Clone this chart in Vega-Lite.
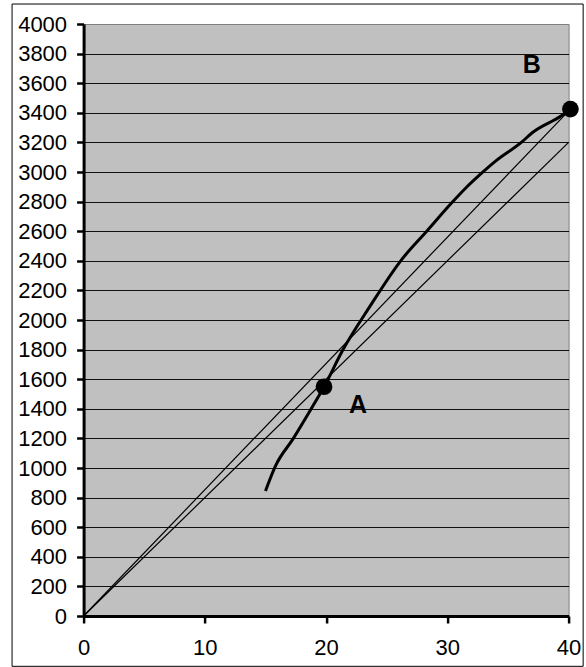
{
  "$schema": "https://vega.github.io/schema/vega-lite/v6.json",
  "width": 485,
  "height": 592,
  "autosize": {"type": "none"},
  "padding": {"left": 83.6, "top": 24, "right": 17.4, "bottom": 51},
  "background": "white",
  "datasets": {
    "lines": [
      {"series": "thin1", "x": 0, "y": 0},
      {"series": "thin1", "x": 40, "y": 3200},
      {"series": "thin2", "x": 0, "y": 0},
      {"series": "thin2", "x": 40.15, "y": 3425},
      {"series": "curve", "x": 15.0, "y": 845},
      {"series": "curve", "x": 15.8, "y": 1010},
      {"series": "curve", "x": 17.3, "y": 1200},
      {"series": "curve", "x": 18.7, "y": 1390},
      {"series": "curve", "x": 19.83, "y": 1549},
      {"series": "curve", "x": 21.4, "y": 1800},
      {"series": "curve", "x": 23.6, "y": 2090},
      {"series": "curve", "x": 26.2, "y": 2405},
      {"series": "curve", "x": 28.3, "y": 2600},
      {"series": "curve", "x": 30.4, "y": 2795},
      {"series": "curve", "x": 31.5, "y": 2890},
      {"series": "curve", "x": 32.8, "y": 2990},
      {"series": "curve", "x": 34.0, "y": 3075},
      {"series": "curve", "x": 36.1, "y": 3200},
      {"series": "curve", "x": 37.0, "y": 3265},
      {"series": "curve", "x": 39.4, "y": 3380},
      {"series": "curve", "x": 40.15, "y": 3425}
    ],
    "points": [
      {"label": "A", "x": 19.83, "y": 1549},
      {"label": "B", "x": 40.15, "y": 3425}
    ],
    "labels": [
      {"text": "A", "x": 22.63, "y": 1426},
      {"text": "B", "x": 36.96, "y": 3723}
    ]
  },
  "encoding": {
    "x": {"type": "quantitative", "scale": {"domain": [0, 40], "nice": false},
      "axis": {"values": [0, 10, 20, 30, 40], "tickCount": 10, "grid": false, "labelFlush": false, "format": "d", "labelPadding": 14}},
    "y": {"type": "quantitative", "scale": {"domain": [0, 4000], "nice": false},
      "axis": {"values": [0, 200, 400, 600, 800, 1000, 1200, 1400, 1600, 1800, 2000, 2200, 2400, 2600, 2800, 3000, 3200, 3400, 3600, 3800, 4000],
        "tickCount": 30,
        "format": "d",
        "grid": true,
        "gridColor": {"condition": {"test": "datum.value == 4000", "value": "#808080"}, "value": "#111111"},
        "gridWidth": 1}}
  },
  "layer": [
    {
      "data": {"values": [{}]},
      "mark": {"type": "rect", "fill": null, "stroke": "black", "strokeWidth": 1},
      "encoding": {
        "x": {"datum": -5.9, "type": "quantitative"},
        "x2": {"datum": 41.2},
        "y": {"datum": -340, "type": "quantitative"},
        "y2": {"datum": 4135}
      }
    },
    {
      "data": {"name": "lines"},
      "transform": [{"filter": "datum.series !== 'curve'"}],
      "mark": {"type": "line", "color": "black", "strokeWidth": 1.2},
      "encoding": {
        "x": {"field": "x", "type": "quantitative"},
        "y": {"field": "y", "type": "quantitative"},
        "detail": {"field": "series"}
      }
    },
    {
      "data": {"name": "lines"},
      "transform": [{"filter": "datum.series === 'curve'"}],
      "mark": {"type": "line", "color": "black", "strokeWidth": 3, "interpolate": "monotone"},
      "encoding": {
        "x": {"field": "x", "type": "quantitative"},
        "y": {"field": "y", "type": "quantitative"}
      }
    },
    {
      "data": {"name": "points"},
      "mark": {"type": "point", "filled": true, "color": "black", "opacity": 1, "size": 280},
      "encoding": {
        "x": {"field": "x", "type": "quantitative"},
        "y": {"field": "y", "type": "quantitative"}
      }
    },
    {
      "data": {"name": "labels"},
      "mark": {"type": "text", "font": "Liberation Sans", "fontSize": 25, "fontWeight": "bold", "color": "black", "align": "center", "baseline": "middle"},
      "encoding": {
        "x": {"field": "x", "type": "quantitative"},
        "y": {"field": "y", "type": "quantitative"},
        "text": {"field": "text"}
      }
    }
  ],
  "config": {
    "view": {"fill": "#c0c0c0", "stroke": "#808080", "strokeWidth": 1},
    "axis": {
      "title": null,
      "domainColor": "black",
      "domainWidth": 3,
      "tickColor": "black",
      "tickWidth": 2.5,
      "tickSize": 7,
      "labelFont": "Liberation Sans",
      "labelFontSize": 22,
      "labelColor": "black",
      "labelOverlap": false,
      "labelPadding": 10
    }
  }
}
